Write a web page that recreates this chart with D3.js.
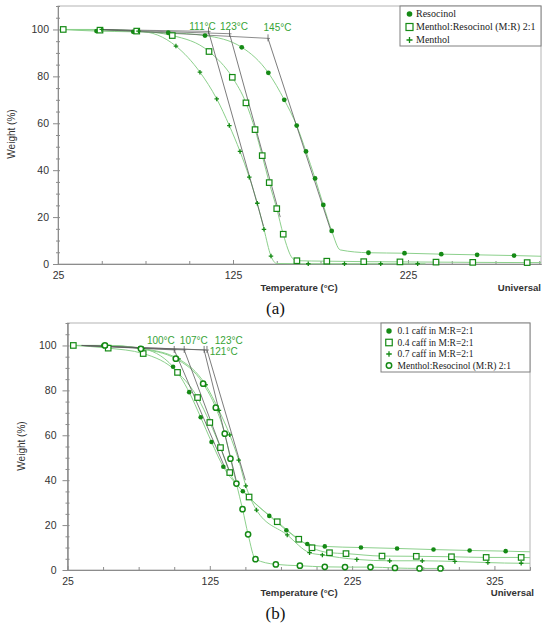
<!DOCTYPE html>
<html>
<head>
<meta charset="utf-8">
<script src="https://cdn.jsdelivr.net/npm/d3@7"></script>
<style>
  body { margin: 0; background: #fff; }
  text { font-family: "Liberation Sans", Arial, sans-serif; }
</style>
</head>
<body>
<div id="chart"></div>
<script>
/* TGA weight loss curves, panels (a) and (b) */

// ---------- panel (a) data ----------
const resoT = [27, 47, 68, 88, 109, 130, 145.2, 154.3, 161.4, 166.7, 171.9, 176.6, 181.4, 186.3, 202.4, 223, 244, 264.5, 285.6, 301];
const resoW = [100, 99.3, 99, 98.6, 97.4, 92.4, 81.5, 70, 59, 48, 36.5, 25.2, 14.1, 6, 4.8, 4.6, 4.2, 3.9, 3.6, 3.3];
const resoMark = [0, 1, 1, 1, 1, 1, 1, 1, 1, 1, 1, 1, 1, 0, 1, 1, 1, 1, 1, 0];

const mrT = [28, 49, 70, 90.3, 111.3, 124.6, 132.4, 137.6, 141.7, 145.7, 150, 153.7, 159, 161.5, 178.6, 199.7, 220.4, 241, 262, 293.1, 301];
const mrW = [100, 99.7, 99.3, 97.4, 90.6, 79.6, 68.7, 57.3, 46.2, 34.7, 23.6, 12.7, 2.4, 1.4, 1.2, 1.0, 0.9, 0.8, 0.7, 0.6, 0.6];
const mrMark = [1, 1, 1, 1, 1, 1, 1, 1, 1, 1, 1, 1, 0, 1, 1, 1, 1, 1, 1, 1, 0];

const mentT = [28, 50, 71, 82, 92.4, 106.1, 115.7, 122.9, 129, 134.3, 138.9, 142.7, 146.7, 150, 168, 188.7, 209.4, 230.5, 235];
const mentW = [100, 100, 99.3, 97.6, 92.9, 81.8, 70.4, 59, 48, 37, 25.9, 14.8, 3.4, 0.2, 0.1, 0.1, 0.1, 0.1, 0.1];
const mentMark = [0, 1, 1, 0, 1, 1, 1, 1, 1, 1, 1, 1, 1, 0, 1, 1, 1, 1, 0];

// onset construction lines: onset (T, W) and end of tangent (T, W)
const onsetA = [111, 123, 145];
const onsetAW = [99.2, 98.2, 96.2];
const tangentAEndT = [142.5, 152, 181];
const tangentAEndW = [16, 20, 14];
const onsetALabels = ["111°C", "123°C", "145°C"];

const legendA = ["Resocinol", "Menthol:Resocinol (M:R) 2:1", "Menthol"];

// ---------- panel (b) data ----------
const c01T = [27, 50.1, 75.9, 99.2, 110.5, 118.6, 126.2, 134.5, 148.2, 166.8, 178.8, 193.5, 205.8, 231.2, 256.6, 282.2, 307.6, 332.9, 350];
const c01W = [100, 100, 98.8, 90.5, 79.2, 68, 57, 46, 35.1, 24.1, 17.7, 11.6, 10.5, 10, 9.6, 9.1, 8.7, 8.4, 8.1];
const c01Mark = [0, 1, 1, 1, 1, 1, 1, 1, 1, 1, 1, 1, 1, 1, 1, 1, 1, 1, 0];

const c04T = [29.1, 53.6, 78.2, 102.3, 116.4, 125, 132.5, 139, 152.6, 172.4, 187.5, 196.8, 209.1, 220.7, 246, 270.1, 294.8, 319.2, 343.8, 350];
const c04W = [100, 98.8, 96.4, 88, 76.8, 65.7, 54.5, 43.4, 32.5, 21.5, 13.7, 9.9, 7.7, 7.3, 6.2, 6.1, 5.9, 5.6, 5.6, 5.5];
const c04Mark = [1, 1, 1, 1, 1, 1, 1, 1, 1, 1, 1, 1, 1, 1, 1, 1, 1, 1, 1, 0];

const c07T = [27, 53, 78, 103, 122, 131.4, 139, 145.3, 150.3, 157.8, 179.4, 195.1, 204.1, 228.3, 251.4, 274.3, 297.2, 320.4, 343.8, 350];
const c07W = [100, 100, 98.6, 94, 82.5, 71.1, 60.2, 48.9, 37.5, 26.7, 15.6, 7.7, 6.7, 4.7, 4.1, 4.1, 3.8, 3.3, 3.0, 3.0];
const c07Mark = [0, 1, 1, 1, 1, 1, 1, 1, 1, 1, 1, 1, 1, 1, 1, 1, 1, 1, 1, 0];

const mrBT = [27, 51.3, 76.6, 101.1, 120.3, 129.2, 135.5, 139.5, 143.7, 148, 151.9, 157.1, 171.4, 188.3, 205.8, 220, 237.9, 255.1, 272.4, 287.1, 290];
const mrBW = [100, 100, 98.5, 94.1, 83, 72.3, 60.7, 49.6, 38.5, 27.1, 15.9, 4.8, 2.5, 1.9, 1.4, 1.3, 1.3, 0.9, 0.7, 0.7, 0.7];
const mrBMark = [0, 1, 1, 1, 1, 1, 1, 1, 1, 1, 1, 1, 1, 1, 1, 1, 1, 1, 1, 1, 0];

const onsetB = [100, 107, 121, 123];
const onsetBW = [98, 98, 98, 98];
const tangentBEndT = [136, 140, 143.5, 150];
const tangentBEndW = [45, 42, 40, 40];
const onsetBLabels = ["100°C", "107°C", "121°C", "123°C"];

const legendB = ["0.1 caff in M:R=2:1", "0.4 caff in M:R=2:1", "0.7 caff in M:R=2:1", "Menthol:Resocinol (M:R) 2:1"];

// ---------- colours / layout ----------
const markColor = "#158a15",
      lineColor = "#8cd08c",
      tanColor = "#5a5a5a",
      axisColor = "#8c8c8c",
      labelGreen = "#36a336";

const width = 550, height = 628;

let svg = d3.select("#chart")
    .append("svg")
    .attr("width", width)
    .attr("height", height);

function zip(T, W, M) {
    return T.map((t, i) => ({ t: t, w: W[i], m: M ? M[i] : 1 }));
}

// one marker symbol
function symbol(g, type, cx, cy, s) {
    if (type === "dot") {
        g.append("circle").attr("cx", cx).attr("cy", cy).attr("r", s * 0.5)
            .attr("fill", markColor);
    } else if (type === "square") {
        g.append("rect").attr("x", cx - s / 2).attr("y", cy - s / 2)
            .attr("width", s).attr("height", s)
            .attr("fill", "#fff").attr("stroke", markColor).attr("stroke-width", 1.2);
    } else if (type === "plus") {
        let h = s / 2;
        g.append("path").attr("d", `M${cx - h},${cy}H${cx + h}M${cx},${cy - h}V${cy + h}`)
            .attr("stroke", markColor).attr("stroke-width", 1.3);
    } else if (type === "ring") {
        g.append("circle").attr("cx", cx).attr("cy", cy).attr("r", s * 0.45)
            .attr("fill", "#fff").attr("stroke", markColor).attr("stroke-width", 1.5);
    }
}

function styleAxis(g, fs) {
    g.select(".domain").attr("stroke", axisColor);
    g.selectAll(".tick line").attr("stroke", axisColor);
    g.selectAll(".tick text")
        .attr("fill", "#333")
        .style("font-size", fs + "px")
        .style("font-family", "'Liberation Sans', Arial, sans-serif");
}

function panel(p) {
    let x = d3.scaleLinear().domain(p.xDomain).range(p.xRange);
    let y = d3.scaleLinear().domain([0, 110]).range(p.yRange);
    let g = svg.append("g");

    // frame
    g.append("rect")
        .attr("x", p.xRange[0]).attr("y", p.yRange[1])
        .attr("width", p.xRange[1] - p.xRange[0])
        .attr("height", p.yRange[0] - p.yRange[1])
        .attr("fill", "none").attr("stroke", "#b4b4b4");

    // x axis: minor then major (ticks point inward)
    g.append("g")
        .attr("transform", `translate(0,${p.yRange[0]})`)
        .call(d3.axisBottom(x).tickValues(p.xMinor).tickSizeInner(-3).tickSizeOuter(0).tickFormat(""))
        .call(a => styleAxis(a, 10.5));
    g.append("g")
        .attr("transform", `translate(0,${p.yRange[0]})`)
        .call(d3.axisBottom(x).tickValues(p.xMajor).tickSizeInner(-4).tickSizeOuter(0).tickPadding(8).tickFormat(d3.format("d")))
        .call(a => styleAxis(a, 10.5));

    // y axis: crossing ticks
    g.append("g")
        .attr("transform", `translate(${p.xRange[0]},0)`)
        .call(d3.axisLeft(y).tickValues(d3.range(0, 111, 5).filter(v => v % 20 !== 0)).tickSizeInner(2).tickSizeOuter(0).tickFormat(""))
        .call(a => styleAxis(a, 10.5))
        .call(a => a.selectAll(".tick line").attr("x1", 2));
    g.append("g")
        .attr("transform", `translate(${p.xRange[0]},0)`)
        .call(d3.axisLeft(y).tickValues([0, 20, 40, 60, 80, 100]).tickSizeInner(5).tickSizeOuter(0).tickPadding(p.yPad).tickFormat(d3.format("d")))
        .call(a => styleAxis(a, 10.5))
        .call(a => a.selectAll(".tick line").attr("x1", 2));

    // axis titles
    g.append("text")
        .attr("transform", `translate(${p.yTitleX},${p.yTitleY}) rotate(-90)`)
        .attr("text-anchor", "middle")
        .attr("fill", "#333").style("font-size", "10px")
        .text("Weight (%)");
    g.append("text")
        .attr("x", p.xTitleX).attr("y", p.xTitleY)
        .attr("text-anchor", "middle").attr("fill", "#333")
        .style("font-size", "9.6px").style("font-weight", "bold")
        .text("Temperature (°C)");
    g.append("text")
        .attr("x", p.univX).attr("y", p.xTitleY)
        .attr("text-anchor", "end").attr("fill", "#333")
        .style("font-size", "9.6px").style("font-weight", "bold")
        .text("Universal");
    g.append("text")
        .attr("x", 275.5).attr("y", p.capY)
        .attr("text-anchor", "middle").attr("fill", "#111")
        .style("font-family", "'Liberation Serif', 'Times New Roman', serif")
        .style("font-size", "17px")
        .text(p.caption);

    // curves
    let line = d3.line()
        .x(d => x(d.t))
        .y(d => y(d.w))
        .curve(d3.curveMonotoneX);
    for (let s of p.series) {
        g.append("path")
            .attr("d", line(s.pts))
            .attr("fill", "none")
            .attr("stroke", lineColor)
            .attr("stroke-width", 1);
    }

    // onset construction: baseline, tangent and small tick
    p.onsets.forEach((t, i) => {
        let ox = x(t), oy = y(p.onsetW[i]);
        g.append("line")
            .attr("x1", x(p.baseStart)).attr("y1", y(100))
            .attr("x2", ox + 2).attr("y2", oy + 0.1)
            .attr("stroke", tanColor).attr("stroke-width", 0.7);
        g.append("line")
            .attr("x1", ox).attr("y1", oy)
            .attr("x2", x(p.tanEndT[i])).attr("y2", y(p.tanEndW[i]))
            .attr("stroke", tanColor).attr("stroke-width", 0.8);
        g.append("line")
            .attr("x1", ox).attr("y1", oy - 4)
            .attr("x2", ox).attr("y2", oy + 3)
            .attr("stroke", tanColor).attr("stroke-width", 0.8);
        g.append("text")
            .attr("x", ox + p.labelDx[i]).attr("y", p.labelY[i])
            .attr("text-anchor", "middle")
            .attr("fill", labelGreen).style("font-size", "10px")
            .text(p.onsetLabels[i]);
    });

    // markers
    for (let s of p.series) {
        let mg = g.append("g");
        for (let d of s.pts) {
            if (d.m) symbol(mg, s.sym, x(d.t), y(d.w), s.size);
        }
    }

    // legend
    let L = p.legend;
    g.append("rect")
        .attr("x", L.x).attr("y", L.y).attr("width", L.w).attr("height", L.h)
        .attr("fill", "#fff").attr("stroke", "#808080");
    p.series.forEach((s, i) => {
        let cy = L.y + L.first + i * L.step;
        symbol(g, s.sym, L.x + L.symDx, cy, s.legSize);
        g.append("text")
            .attr("x", L.x + L.textDx).attr("y", cy + L.fs * 0.34)
            .attr("fill", "#222")
            .style("font-family", "'Liberation Serif', 'Times New Roman', serif")
            .style("font-size", L.fs + "px")
            .text(s.name);
    });
}

// panel (a)
panel({
    xDomain: [25, 301], xRange: [58, 541], yRange: [264, 6],
    xMajor: [25, 125, 225], xMinor: d3.range(50, 301, 25).filter(v => (v - 25) % 100 !== 0),
    yPad: 4, yTitleX: 15, yTitleY: 134,
    xTitleX: 299, xTitleY: 291, univX: 541, capY: 314, caption: "(a)",
    baseStart: 48,
    onsets: onsetA, onsetW: onsetAW, tanEndT: tangentAEndT, tanEndW: tangentAEndW,
    onsetLabels: onsetALabels, labelDx: [-6, 4.5, 9.5], labelY: [30, 30, 31],
    series: [
        { name: legendA[0], sym: "dot", size: 4.8, legSize: 5.6, pts: zip(resoT, resoW, resoMark) },
        { name: legendA[1], sym: "square", size: 5.5, legSize: 7, pts: zip(mrT, mrW, mrMark) },
        { name: legendA[2], sym: "plus", size: 4.5, legSize: 6, pts: zip(mentT, mentW, mentMark) }
    ],
    legend: { x: 400, y: 6, w: 141, h: 40, first: 8, step: 13, symDx: 9.5, textDx: 16, fs: 10 }
});

// panel (b)
panel({
    xDomain: [25, 350], xRange: [67.5, 530], yRange: [570, 323],
    xMajor: [25, 125, 225, 325], xMinor: d3.range(50, 351, 25).filter(v => (v - 25) % 100 !== 0),
    yPad: 6, yTitleX: 25, yTitleY: 446,
    xTitleX: 299, xTitleY: 596, univX: 534, capY: 619, caption: "(b)",
    baseStart: 35,
    onsets: onsetB, onsetW: onsetBW, tanEndT: tangentBEndT, tanEndW: tangentBEndW,
    onsetLabels: onsetBLabels, labelDx: [-13.4, 9.6, 19.6, 21.8], labelY: [344, 344, 355, 344],
    series: [
        { name: legendB[0], sym: "dot", size: 4.6, legSize: 5.4, pts: zip(c01T, c01W, c01Mark) },
        { name: legendB[1], sym: "square", size: 5.5, legSize: 6.5, pts: zip(c04T, c04W, c04Mark) },
        { name: legendB[2], sym: "plus", size: 4.5, legSize: 5.5, pts: zip(c07T, c07W, c07Mark) },
        { name: legendB[3], sym: "ring", size: 5.8, legSize: 6, pts: zip(mrBT, mrBW, mrBMark) }
    ],
    legend: { x: 381, y: 323, w: 149, h: 49, first: 8, step: 11.5, symDx: 8, textDx: 16.5, fs: 9.5 }
});
</script>
</body>
</html>
